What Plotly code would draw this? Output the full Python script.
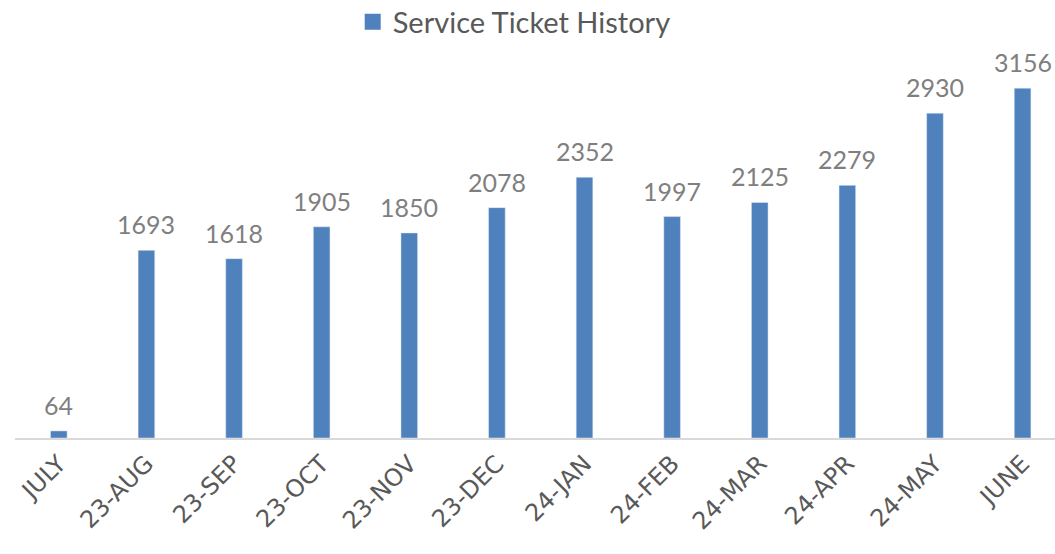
import plotly.graph_objects as go

categories = ["JULY", "23-AUG", "23-SEP", "23-OCT", "23-NOV", "23-DEC",
              "24-JAN", "24-FEB", "24-MAR", "24-APR", "24-MAY", "JUNE"]
tickets = [64, 1693, 1618, 1905, 1850, 2078, 2352, 1997, 2125, 2279, 2930, 3156]
series_name = "Service Ticket History"
bar_color = "#4f81bd"

fig = go.Figure()
fig.add_trace(go.Bar(
    x=categories, y=tickets, name=series_name, showlegend=False,
    legendgroup="s",
    marker=dict(color=bar_color),
    cliponaxis=False,
))
# legend entry with a larger square swatch
fig.add_trace(go.Scatter(
    x=[None], y=[None], mode="markers", name=series_name, legendgroup="s",
    marker=dict(symbol="square", size=17, color=bar_color),
))
for c, v in zip(categories, tickets):
    fig.add_annotation(x=c, y=v, text=str(v), showarrow=False, yanchor="bottom",
                       yshift=9,
                       font=dict(family="Lato, Open Sans, sans-serif", size=25, color="#7f7f7f"))
fig.update_layout(
    width=1055, height=554,
    margin=dict(l=15, r=0, t=50, b=116, autoexpand=False),
    paper_bgcolor="white", plot_bgcolor="white",
    bargap=0.81,
    showlegend=True,
    legend=dict(orientation="h", x=0.48, xanchor="center", y=1 - 22 / 554, yref="container",
                yanchor="middle", itemsizing="trace",
                font=dict(family="Lato, Open Sans, sans-serif", size=29, color="#595959")),
    xaxis=dict(range=[-0.5, 11.37], tickangle=-45, showline=True, linecolor="#d9d9d9",
               linewidth=2, ticks="", showgrid=False, automargin=False,
               tickfont=dict(family="DejaVu Sans, sans-serif", size=24, color="#595959")),
    yaxis=dict(range=[0, 3500], visible=False, showgrid=False, automargin=False),
)
fig.write_html("out.html", post_script="document.body.style.margin='0';",
               config={"displayModeBar": False})
